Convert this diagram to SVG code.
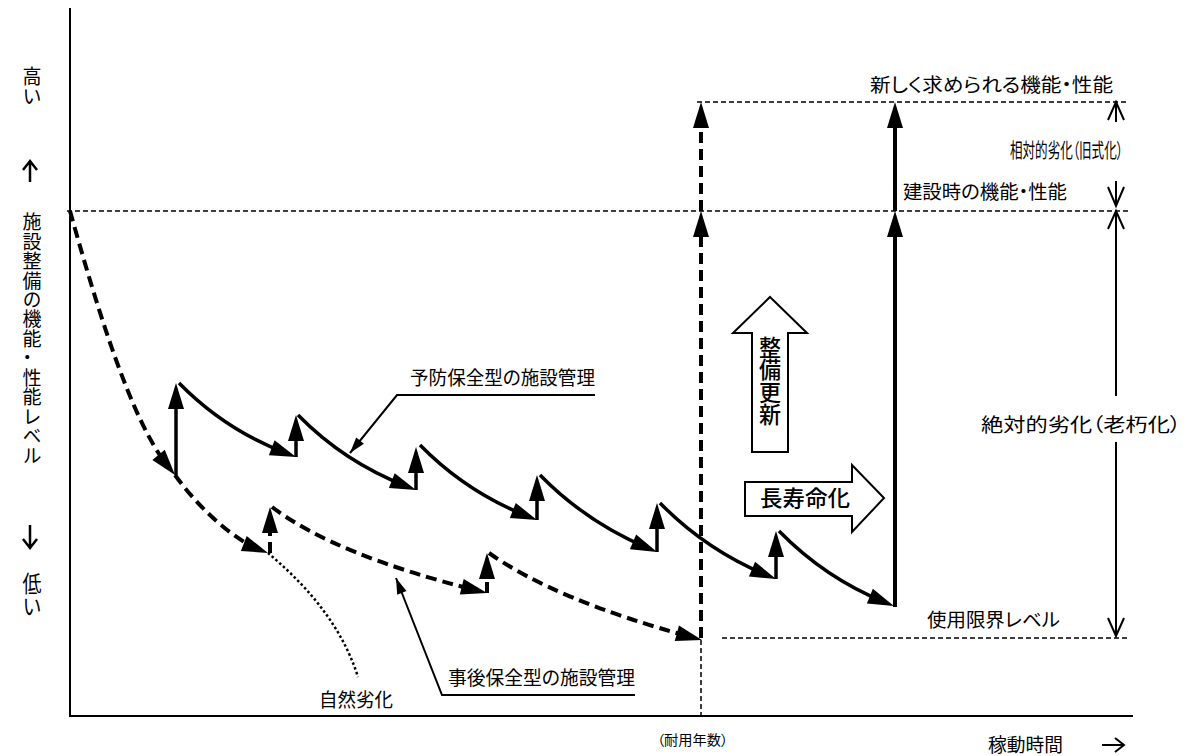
<svg xmlns="http://www.w3.org/2000/svg" width="1198" height="756" viewBox="0 0 1198 756">
<style>
.t{font-family:"Noto Sans CJK JP","Noto Sans",sans-serif;font-size:19px;fill:#000;font-feature-settings:"palt"}
.b{font-family:"Noto Sans CJK JP","Noto Sans",sans-serif;font-size:22px;font-weight:500;fill:#000}
.v{writing-mode:vertical-rl;text-orientation:upright}
.ax{stroke:#000;stroke-width:2;fill:none}
.thin{stroke:#000;stroke-width:1.5;fill:none;stroke-dasharray:5 3}
.sol{stroke:#000;stroke-width:3.5;fill:none;marker-end:url(#ah)}
.dsh{stroke:#000;stroke-width:4;fill:none;stroke-dasharray:11 6;marker-end:url(#ah)}
.lead{stroke:#000;stroke-width:2;fill:none}
.open{stroke:#000;stroke-width:2;fill:none}
.blk{stroke:#000;stroke-width:2;fill:#fff}
</style>
<defs>
<marker id="ah" markerUnits="userSpaceOnUse" markerWidth="26" markerHeight="16" refX="16" refY="8" orient="auto" overflow="visible">
<path d="M0,0 L26,8 L0,16 Z" fill="#000"/>
</marker>
<marker id="sh" markerUnits="userSpaceOnUse" markerWidth="16" markerHeight="10" refX="16" refY="5" orient="auto" overflow="visible">
<path d="M0,0 L16,5 L0,10 Z" fill="#000"/>
</marker>
</defs>
<rect width="1198" height="756" fill="#fff"/>

<g id="axes">
<line class="ax" x1="70" y1="8" x2="70" y2="717"/>
<line class="ax" x1="69" y1="716" x2="1133" y2="716"/>
</g>

<g id="levels">
<line class="thin" x1="697" y1="102" x2="1128" y2="102"/>
<line class="thin" x1="67" y1="211" x2="1130" y2="211"/>
<line class="thin" x1="722" y1="638" x2="1130" y2="638"/>
<line class="thin" x1="701" y1="640" x2="701" y2="716"/>
</g>

<g id="y-label">
<text class="t v" x="32" y="66" textLength="40" lengthAdjust="spacingAndGlyphs">高い</text>
<path class="open" style="stroke-width:2.5" d="M30,182 L30,162 M23,170 L30,161 L37,170"/>
<text class="t v" x="32" y="212" textLength="253" lengthAdjust="spacingAndGlyphs">施設整備の機能・性能レベル</text>
<path class="open" style="stroke-width:2.5" d="M30,525 L30,547 M23,539 L30,548 L37,539"/>
<text class="t v" x="32" y="572" textLength="46" lengthAdjust="spacingAndGlyphs">低い</text>
</g>

<g id="connectors">
<path class="dsh" d="M70,211 C95,300 130,420 168.7,467.3"/>
<path class="dsh" d="M175,475 C200,510 235,540 258.7,549.3"/>
<path class="dsh" d="M270,553 L270,517"/>
<path class="dsh" d="M272,507 Q335,555 477.3,590.6"/>
<path class="dsh" d="M487,593 L487,563"/>
<path class="dsh" d="M489,553 Q555,600 692.3,637.4"/>
<path d="M268,553 C300,580 340,620 358,677" stroke="#000" stroke-width="2.5" fill="none" stroke-dasharray="2.5 2.5"/>
<path class="sol" d="M176,475 L176,393"/>
<path class="sol" d="M179,383 Q225,430 286.7,453.4"/>
<path class="sol" d="M296,457 L296,425"/>
<path class="sol" d="M298,415 Q344,462 406.7,486.4"/>
<path class="sol" d="M416,490 L416,457"/>
<path class="sol" d="M420,445 Q466,492 527.7,516.3"/>
<path class="sol" d="M537,520 L537,485"/>
<path class="sol" d="M540,475 Q586,522 647.8,548.1"/>
<path class="sol" d="M657,552 L657,513"/>
<path class="sol" d="M660,503 Q706,550 766.8,575.2"/>
<path class="sol" d="M776,579 L776,541"/>
<path class="sol" d="M779,531 Q825,578 884.7,602.2"/>
<path class="dsh" d="M701,638 L701,221"/>
<path class="dsh" d="M701,211 L701,112"/>
<path class="sol" style="stroke-width:4" d="M895,607 L895,221"/>
<path class="sol" style="stroke-width:4" d="M895,211 L895,112"/>
<path class="lead" d="M595,395 L397,395 L350,453" marker-end="url(#sh)"/>
<path class="lead" d="M635,695 L442,695 L396,578" marker-end="url(#sh)"/>
<path class="open" d="M1116,122 L1116,103 M1108,120 L1116,102 L1124,120"/>
<path class="open" d="M1116,181 L1116,205 M1108,187 L1116,206 L1124,187"/>
<path class="open" d="M1116,396 L1116,212 M1108,229 L1116,211 L1124,229"/>
<path class="open" d="M1116,442 L1116,635 M1108,618 L1116,636 L1124,618"/>
<path class="open" d="M1102,745 L1124,745 M1115,738 L1124,745 L1115,752"/>
</g>

<g id="renewal-arrow">
<path class="blk" d="M770,297 L807,333 L788,333 L788,452 L752,452 L752,333 L733,333 Z"/>
<text class="b v" x="770" y="336" textLength="90" lengthAdjust="spacingAndGlyphs">整備更新</text>
</g>

<g id="life-arrow">
<path class="blk" d="M745,482 L852,482 L852,465 L884,498 L852,532 L852,516 L745,516 Z"/>
<text class="b" x="760" y="506" textLength="90" lengthAdjust="spacingAndGlyphs">長寿命化</text>
</g>

<g id="labels">
<text class="t" x="870" y="92" textLength="243" lengthAdjust="spacingAndGlyphs">新しく求められる機能・性能</text>
<text class="t" x="1010" y="158" style="font-size:20px" textLength="113" lengthAdjust="spacingAndGlyphs">相対的劣化（旧式化）</text>
<text class="t" x="903" y="199" style="font-size:19px" textLength="164" lengthAdjust="spacingAndGlyphs">建設時の機能・性能</text>
<text class="t" x="981" y="432" textLength="200" lengthAdjust="spacingAndGlyphs">絶対的劣化（老朽化）</text>
<text class="t" x="410" y="385" textLength="185" lengthAdjust="spacingAndGlyphs">予防保全型の施設管理</text>
<text class="t" x="448" y="685" textLength="187" lengthAdjust="spacingAndGlyphs">事後保全型の施設管理</text>
<text class="t" x="319" y="707" textLength="74" lengthAdjust="spacingAndGlyphs">自然劣化</text>
<text class="t" x="657" y="745" style="font-size:14px" textLength="71" lengthAdjust="spacingAndGlyphs">（耐用年数）</text>
<text class="t" x="927" y="627" textLength="133" lengthAdjust="spacingAndGlyphs">使用限界レベル</text>
<text class="t" x="988" y="752" textLength="75" lengthAdjust="spacingAndGlyphs">稼動時間</text>
</g>
</svg>
